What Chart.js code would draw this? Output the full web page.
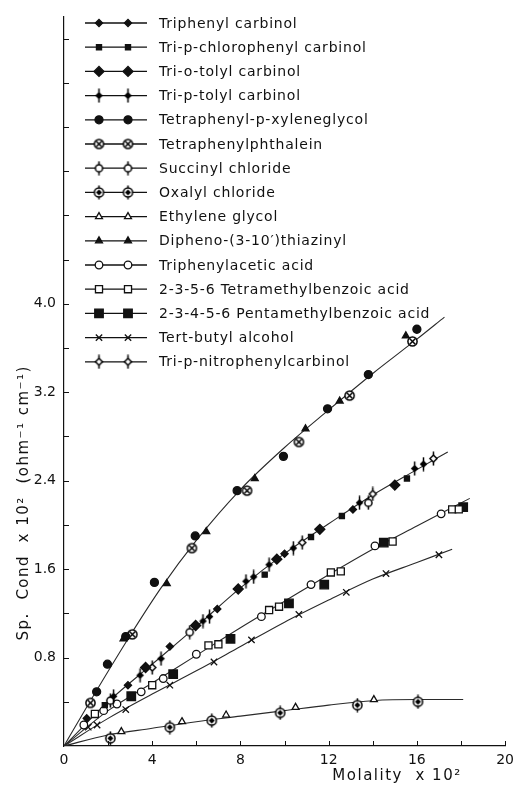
<!DOCTYPE html>
<html>
<head>
<meta charset="utf-8">
<script src="https://cdn.jsdelivr.net/npm/chart.js@4.4.1/dist/chart.umd.min.js"></script>
<style>
  html, body { margin: 0; padding: 0; background: #fff; }
  #wrap { width: 520px; height: 789px; }
</style>
</head>
<body>
<div id="wrap"><canvas id="chart" width="520" height="789"></canvas></div>
<script>
// --- data: [molality x 10^2, sp. cond x 10^2] ---
const triphenylCarbinol = [[1.03, 0.25], [2.9, 0.55], [4.8, 0.9], [6.95, 1.24], [10.0, 1.74], [13.1, 2.14]];
const triPChlorophenyl = [[1.85, 0.37], [9.1, 1.55], [11.2, 1.89], [12.6, 2.08], [15.55, 2.42]];
const triOTolyl = [[3.7, 0.71], [5.97, 1.09], [7.9, 1.42], [9.65, 1.69], [11.6, 1.96], [15.0, 2.36]];
const triPTolyl = [[2.25, 0.45], [3.45, 0.64], [4.4, 0.79], [6.3, 1.13], [6.6, 1.17], [8.25, 1.49], [8.6, 1.53],
                   [9.3, 1.64], [10.4, 1.79], [13.4, 2.2], [15.9, 2.51], [16.3, 2.55]];
const xyleneglycol = [[1.48, 0.49], [1.97, 0.74], [2.8, 0.99], [4.1, 1.48], [5.95, 1.9], [7.85, 2.31], [9.95, 2.62],
                      [11.95, 3.05], [13.8, 3.36], [16.0, 3.77]];
const phthalein = [[1.2, 0.39], [3.1, 1.01], [5.8, 1.79], [8.3, 2.31], [10.65, 2.75], [12.95, 3.17], [15.8, 3.66]];
const succinylChloride = [[2.1, 0.41], [5.7, 1.03], [13.8, 2.2]];
const oxalylChloride = [[2.1, 0.07], [4.8, 0.17], [6.7, 0.23], [9.8, 0.3], [13.3, 0.37], [16.05, 0.4]];
const ethyleneGlycol = [[2.6, 0.13], [5.35, 0.22], [7.35, 0.28], [10.5, 0.35], [14.05, 0.42]];
const thiazinyl = [[2.7, 0.97], [4.66, 1.47], [6.45, 1.94], [8.65, 2.42], [10.95, 2.87], [12.5, 3.12], [15.5, 3.71]];
const triphenylacetic = [[0.9, 0.19], [1.8, 0.32], [2.4, 0.38], [3.5, 0.49], [4.5, 0.61], [6.0, 0.83], [8.95, 1.17],
                         [11.2, 1.46], [14.1, 1.81], [17.1, 2.1]];
const tetramethylbenzoic = [[1.4, 0.29], [4.0, 0.55], [6.55, 0.91], [7.0, 0.92], [9.3, 1.23], [9.75, 1.26],
                            [12.1, 1.57], [12.55, 1.58], [14.9, 1.85], [17.6, 2.14], [17.9, 2.14]];
const pentamethylbenzoic = [[3.05, 0.45], [4.95, 0.65], [7.55, 0.97], [10.2, 1.29], [11.8, 1.46], [14.5, 1.84], [18.1, 2.16]];
const tertButyl = [[1.1, 0.17], [1.5, 0.19], [2.8, 0.33], [4.8, 0.55], [6.8, 0.76], [8.5, 0.96], [10.65, 1.19],
                   [12.8, 1.39], [14.6, 1.56], [17.0, 1.73]];
const triPNitrophenyl = [[4.0, 0.71], [10.8, 1.84], [14.0, 2.28], [16.75, 2.6]];

// fitted curves drawn through the points
const curveA = [[0, 0], [1.2, 0.41], [3, 1.0], [4.4, 1.43], [6, 1.86], [8, 2.32], [10, 2.7], [12, 3.04], [14, 3.37], [16, 3.68], [17.25, 3.88]];
const curveB = [[0, 0], [2, 0.4], [4, 0.74], [6, 1.08], [8, 1.43], [10, 1.74], [12, 2.01], [14, 2.27], [16, 2.5], [17.4, 2.66]];
const curveC = [[0, 0], [2, 0.32], [4, 0.57], [6, 0.82], [8, 1.07], [10, 1.31], [12, 1.55], [14, 1.78], [16, 1.99], [18.4, 2.24]];
const curveD = [[0, 0], [2, 0.25], [4, 0.47], [6, 0.68], [8, 0.9], [10, 1.12], [12, 1.32], [14, 1.51], [16, 1.66], [17.6, 1.78]];
const curveE = [[0, 0], [2, 0.1], [4, 0.16], [6, 0.22], [8, 0.27], [10, 0.32], [12, 0.37], [14, 0.41], [16, 0.42], [18.1, 0.42]];

const xTickLabels = ['0', '4', '8', '12', '16', '20'];
const yTickLabels = ['0.8', '1.6', '2.4', '3.2', '4.0'];

const INK = '#111';
const FONT = '"DejaVu Sans", sans-serif';

// small canvases for the markers Chart.js has no style for
function marker(draw) {
    const c = document.createElement('canvas');
    c.width = 15; c.height = 15;
    const g = c.getContext('2d');
    g.translate(7.5, 7.5);
    g.strokeStyle = '#000';
    g.fillStyle = '#000';
    g.lineWidth = 1.5;
    draw(g);
    return c;
}

const tolylMark = marker(g => {
    g.beginPath(); g.moveTo(0, -3.8); g.lineTo(3.8, 0); g.lineTo(0, 3.8); g.lineTo(-3.8, 0); g.closePath(); g.fill();
    g.beginPath(); g.moveTo(0, -7); g.lineTo(0, 7); g.stroke();
});
const phthaleinMark = marker(g => {
    g.fillStyle = '#fff';
    g.beginPath(); g.arc(0, 0, 4.6, 0, Math.PI * 2); g.fill(); g.stroke();
    g.beginPath(); g.moveTo(-3, -3); g.lineTo(3, 3); g.moveTo(3, -3); g.lineTo(-3, 3); g.stroke();
});
const succinylMark = marker(g => {
    g.fillStyle = '#fff';
    g.beginPath(); g.arc(0, 0, 3.6, 0, Math.PI * 2); g.fill(); g.stroke();
    g.beginPath(); g.moveTo(0, -7); g.lineTo(0, -3.6); g.moveTo(0, 3.6); g.lineTo(0, 7); g.stroke();
});
const oxalylMark = marker(g => {
    g.fillStyle = '#fff';
    g.beginPath(); g.arc(0, 0, 4.6, 0, Math.PI * 2); g.fill(); g.stroke();
    g.fillStyle = '#000';
    g.beginPath(); g.moveTo(0, -3); g.lineTo(3, 0); g.lineTo(0, 3); g.lineTo(-3, 0); g.closePath(); g.fill();
    g.beginPath(); g.moveTo(0, -7); g.lineTo(0, -4.6); g.moveTo(0, 4.6); g.lineTo(0, 7); g.stroke();
});
const nitroMark = marker(g => {
    g.fillStyle = '#fff';
    g.beginPath(); g.moveTo(0, -3.5); g.lineTo(3.5, 0); g.lineTo(0, 3.5); g.lineTo(-3.5, 0); g.closePath(); g.fill(); g.stroke();
    g.beginPath(); g.moveTo(0, -7); g.lineTo(0, -3.5); g.moveTo(0, 3.5); g.lineTo(0, 7); g.stroke();
});

function pts(arr) { return arr.map(([x, y]) => ({ x, y })); }

function series(label, data, style, radius, filled) {
    return {
        label, data: pts(data), showLine: false, order: 1,
        pointStyle: style, pointRadius: radius, pointHoverRadius: radius,
        pointBorderColor: INK, pointBorderWidth: 1.3,
        pointBackgroundColor: filled ? INK : '#fff',
        inLegend: true
    };
}

function curve(data) {
    return {
        data: pts(data), showLine: true, order: 2, pointRadius: 0,
        borderColor: '#2a2a2a', borderWidth: 1.1, cubicInterpolationMode: 'monotone', fill: false
    };
}

const datasets = [
    series('Triphenyl carbinol', triphenylCarbinol, 'rectRot', 3.6, true),
    series('Tri-p-chlorophenyl carbinol', triPChlorophenyl, 'rect', 3.6, true),
    series('Tri-o-tolyl carbinol', triOTolyl, 'rectRot', 5, true),
    series('Tri-p-tolyl carbinol', triPTolyl, tolylMark, 4, true),
    series('Tetraphenyl-p-xyleneglycol', xyleneglycol, 'circle', 4, true),
    series('Tetraphenylphthalein', phthalein, phthaleinMark, 4.5, false),
    series('Succinyl chloride', succinylChloride, succinylMark, 4, false),
    series('Oxalyl chloride', oxalylChloride, oxalylMark, 4.5, false),
    series('Ethylene glycol', ethyleneGlycol, 'triangle', 4, false),
    series('Dipheno-(3-10\u2032)thiazinyl', thiazinyl, 'triangle', 4, true),
    series('Triphenylacetic acid', triphenylacetic, 'circle', 3.8, false),
    series('2-3-5-6 Tetramethylbenzoic acid', tetramethylbenzoic, 'rect', 5, false),
    series('2-3-4-5-6 Pentamethylbenzoic acid', pentamethylbenzoic, 'rect', 6, true),
    series('Tert-butyl alcohol', tertButyl, 'crossRot', 4.5, false),
    series('Tri-p-nitrophenylcarbinol', triPNitrophenyl, nitroMark, 4, false),
    curve(curveA), curve(curveB), curve(curveC), curve(curveD), curve(curveE)
];

// legend sits inside the plot, upper left: line sample with two markers
const insideLegend = {
    id: 'insideLegend',
    afterDraw(chart) {
        const ctx = chart.ctx;
        const rows = chart.data.datasets.filter(d => d.inLegend);
        ctx.save();
        rows.forEach((d, i) => {
            const y = 23 + i * 24.2;
            ctx.strokeStyle = INK;
            ctx.lineWidth = 1.3;
            ctx.beginPath(); ctx.moveTo(85, y); ctx.lineTo(147, y); ctx.stroke();
            [99, 128].forEach(x => {
                ctx.fillStyle = d.pointBackgroundColor;
                ctx.strokeStyle = INK;
                ctx.lineWidth = 1.3;
                Chart.helpers.drawPoint(ctx, {
                    pointStyle: d.pointStyle, rotation: 0,
                    radius: d.pointRadius, borderWidth: 1.3
                }, x, y);
            });
            ctx.fillStyle = INK;
            ctx.font = '14px ' + FONT;
            ctx.letterSpacing = '0.8px';
            ctx.textBaseline = 'middle';
            ctx.textAlign = 'left';
            ctx.fillText(d.label, 159, y + 1);
        });
        ctx.restore();
    }
};

// inward tick marks and the two axis titles
const axisDecor = {
    id: 'axisDecor',
    afterDraw(chart) {
        const { ctx, scales: { x, y } } = chart;
        ctx.save();
        ctx.strokeStyle = INK;
        ctx.lineWidth = 1;
        ctx.beginPath();
        y.ticks.forEach(t => {
            const k = Math.round(t.value * 10) / 10;
            if (k === 0 || Math.abs(k / 0.4 - Math.round(k / 0.4)) > 1e-6) return;
            const py = Math.round(y.getPixelForValue(k)) + 0.5;
            ctx.moveTo(y.right, py); ctx.lineTo(y.right + 5, py);
        });
        x.ticks.forEach(t => {
            if (t.value === 0) return;
            const px = Math.round(x.getPixelForValue(t.value)) + 0.5;
            ctx.moveTo(px, x.top); ctx.lineTo(px, x.top - 5);
        });
        ctx.stroke();

        ctx.fillStyle = INK;
        ctx.font = '15px ' + FONT;
        ctx.letterSpacing = '1.5px';
        ctx.textAlign = 'center';
        ctx.textBaseline = 'middle';
        ctx.fillText('Molality  x 10\u00b2', x.getPixelForValue(15.1), 776);
        ctx.translate(24, y.getPixelForValue(2.2));
        ctx.rotate(-Math.PI / 2);
        ctx.fillText('Sp.  Cond  x 10\u00b2  (ohm\u207b\u00b9 cm\u207b\u00b9)', 0, 0);
        ctx.restore();
    }
};

new Chart(document.getElementById('chart'), {
    type: 'scatter',
    data: { datasets },
    options: {
        responsive: false,
        animation: false,
        devicePixelRatio: 1,
        layout: { padding: { top: 13, right: 12, left: 0, bottom: 0 } },
        plugins: { legend: { display: false }, tooltip: { enabled: false } },
        scales: {
            x: {
                type: 'linear', min: 0, max: 20,
                afterFit: s => { s.height = 43; },
                border: { display: true, color: INK, width: 1.2 },
                grid: { display: true, drawOnChartArea: false, drawTicks: false },
                ticks: {
                    stepSize: 2, padding: 6, color: INK, maxRotation: 0,
                    font: { family: FONT, size: 14 },
                    callback: v => xTickLabels.includes(String(v)) ? String(v) : ''
                }
            },
            y: {
                type: 'linear', min: 0, max: 6.6,
                afterFit: s => { s.width = 64; },
                border: { display: true, color: INK, width: 1.2 },
                grid: { display: true, drawOnChartArea: false, drawTicks: false },
                ticks: {
                    stepSize: 0.4, padding: 8, color: INK,
                    font: { family: FONT, size: 14 },
                    callback: v => {
                        const s = (Math.round(v * 10) / 10).toFixed(1);
                        return yTickLabels.includes(s) ? s : '';
                    }
                }
            }
        }
    },
    plugins: [insideLegend, axisDecor]
});
</script>
</body>
</html>
